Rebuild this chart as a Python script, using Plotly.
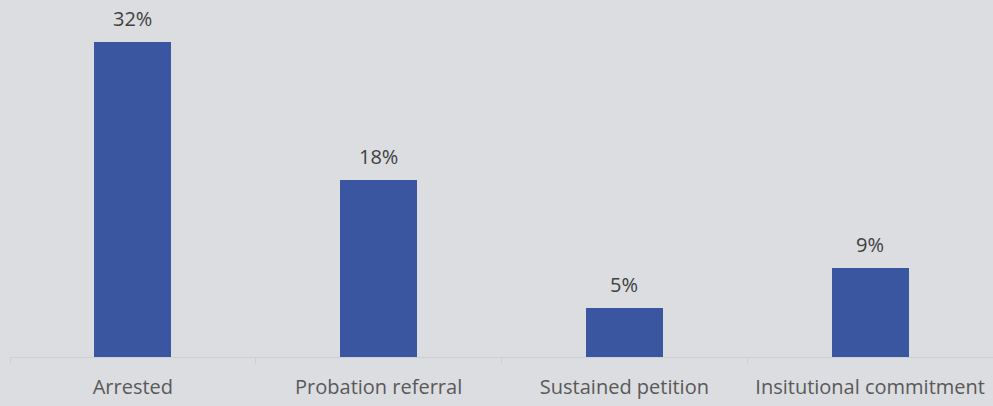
import plotly.graph_objects as go

categories = ["Arrested", "Probation referral", "Sustained petition", "Insitutional commitment"]
values = [32, 18, 5, 9]
labels = ["32%", "18%", "5%", "9%"]

BG = "#dcdde0"
BAR = "#3a56a1"
TEXT = "#595959"
LABEL = "#404040"
FONT = "Open Sans"

fig = go.Figure(
    go.Bar(
        x=categories,
        y=values,
        marker=dict(color=BAR, line=dict(width=0)),
        width=0.313,
        hoverinfo="skip",
    )
)

for c, v, t in zip(categories, values, labels):
    fig.add_annotation(
        x=c, y=v, text=t, showarrow=False,
        yanchor="bottom", yshift=8,
        font=dict(family=FONT, size=20, color=LABEL),
    )

fig.update_layout(
    width=993, height=406,
    margin=dict(l=10, r=0, t=0, b=49),
    paper_bgcolor=BG, plot_bgcolor=BG,
    showlegend=False,
    bargap=0,
)
fig.update_xaxes(
    tickson="boundaries", ticks="outside", ticklen=6, tickcolor="#cfd0d3",
    showline=True, linecolor="#cfd0d3", linewidth=1,
    showgrid=False, ticklabelstandoff=12,
    tickfont=dict(family=FONT, size=20, color=TEXT),
)
fig.update_yaxes(range=[0, 36.28], visible=False, showgrid=False, zeroline=False)

fig.write_html("out.html")
